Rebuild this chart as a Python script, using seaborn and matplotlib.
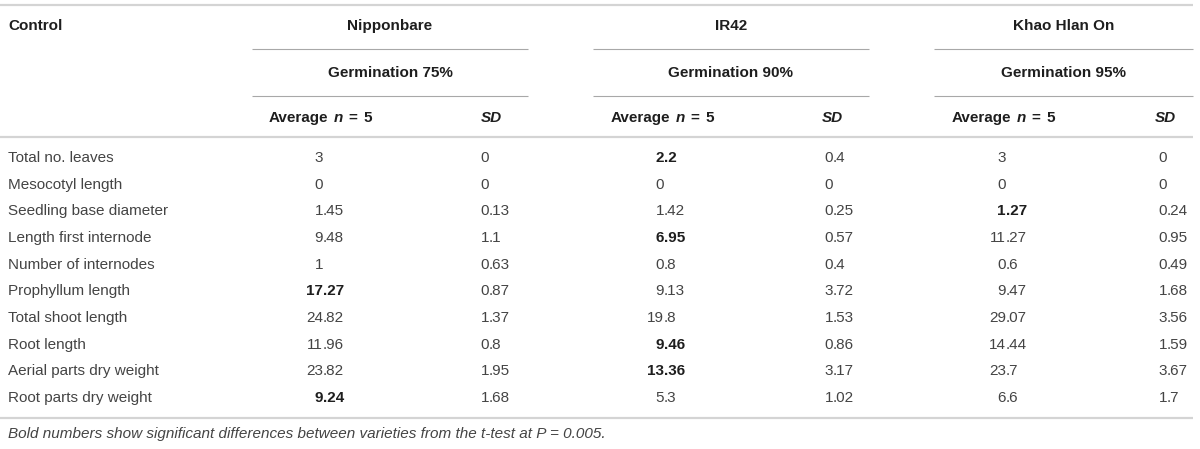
import matplotlib
matplotlib.use("Agg")
import matplotlib.pyplot as plt
import seaborn as sns
import pandas as pd

# ---------------- data ----------------
row_labels = ["Total no. leaves", "Mesocotyl length", "Seedling base diameter",
              "Length first internode", "Number of internodes", "Prophyllum length",
              "Total shoot length", "Root length", "Aerial parts dry weight",
              "Root parts dry weight"]
varieties = ["Nipponbare", "IR42", "Khao Hlan On"]
germination = ["Germination 75%", "Germination 90%", "Germination 95%"]

nip_avg = [3, 0, 1.45, 9.48, 1, 17.27, 24.82, 11.96, 23.82, 9.24]
nip_sd = [0, 0, 0.13, 1.1, 0.63, 0.87, 1.37, 0.8, 1.95, 1.68]
ir42_avg = [2.2, 0, 1.42, 6.95, 0.8, 9.13, 19.8, 9.46, 13.36, 5.3]
ir42_sd = [0.4, 0, 0.25, 0.57, 0.4, 3.72, 1.53, 0.86, 3.17, 1.02]
khao_avg = [3, 0, 1.27, 11.27, 0.6, 9.47, 29.07, 14.44, 23.7, 6.6]
khao_sd = [0, 0, 0.24, 0.95, 0.49, 1.68, 3.56, 1.59, 3.67, 1.7]

nip_bold = [False, False, False, False, False, True, False, False, False, True]
ir42_bold = [True, False, False, True, False, False, False, True, True, False]
khao_bold = [False, False, True, False, False, False, False, False, False, False]

footnote = "Bold numbers show significant differences between varieties from the t-test at P = 0.005."

# ---------------- style ----------------
sns.set_theme(style="white")
plt.rcParams["font.family"] = ["Liberation Sans", "DejaVu Sans"]

FS = 11
REG = "#444444"
BOLD = "#1e1e1e"
LIGHT_LINE = "#d4d4d4"
SUB_LINE = "#a8a8a8"

fig = plt.figure(figsize=(12, 4.49), dpi=100)
ax = fig.add_axes([0, 0, 1, 1])
ax.set_xlim(0, 1200)
ax.set_ylim(449, 0)
ax.axis("off")
renderer = fig.canvas.get_renderer()

df = pd.DataFrame({
    "label": row_labels,
    "nip_avg": nip_avg, "nip_sd": nip_sd,
    "ir42_avg": ir42_avg, "ir42_sd": ir42_sd,
    "khao_avg": khao_avg, "khao_sd": khao_sd,
})

# layout (pixels)
group_left = [252, 593, 934]
group_right = [528, 869, 1193]
avg_center = [320, 662, 1003]
sd_center = [491, 832, 1165]
avg_dec = [323, 664, 1006]
sd_dec = [489, 833, 1167]
y_title, y_germ, y_sub = 26, 73, 118
y_row0, row_h = 158, 26.67

# horizontal rules
ax.plot([0, 1193], [5, 5], color=LIGHT_LINE, lw=1.6, solid_capstyle="butt")
ax.plot([0, 1193], [137, 137], color=LIGHT_LINE, lw=1.6, solid_capstyle="butt")
ax.plot([0, 1193], [418, 418], color=LIGHT_LINE, lw=1.6, solid_capstyle="butt")
for l, r in zip(group_left, group_right):
    ax.plot([l, r], [49, 49], color=SUB_LINE, lw=0.8, solid_capstyle="butt")
    ax.plot([l, r], [96, 96], color=SUB_LINE, lw=0.8, solid_capstyle="butt")


def width_of(s, **kw):
    t = ax.text(0, 0, s, fontsize=FS, **kw)
    w = t.get_window_extent(renderer).width
    t.remove()
    return w


def rich_center(x, y, segs, color):
    sp = 1.35 * (width_of("a a", fontweight="bold") - width_of("aa", fontweight="bold"))
    texts, widths = [], []
    for s, w, st in segs:
        t = ax.text(0, y, s, fontsize=FS, fontweight=w, fontstyle=st,
                    color=color, va="center", ha="left")
        texts.append(t)
        widths.append(t.get_window_extent(renderer).width)
    total = sum(widths) + sp * (len(segs) - 1)
    cur = x - total / 2
    for t, w in zip(texts, widths):
        t.set_x(cur)
        cur += w + sp


# header
ax.text(8, y_title, "Control", fontsize=FS, fontweight="bold", color=BOLD,
        va="center", ha="left")
for i in range(3):
    cx = (group_left[i] + group_right[i]) / 2
    ax.text(cx, y_title, varieties[i], fontsize=FS, fontweight="bold",
            color=BOLD, va="center", ha="center")
    ax.text(cx, y_germ, germination[i], fontsize=FS, fontweight="bold",
            color=BOLD, va="center", ha="center")
    rich_center(avg_center[i], y_sub,
                [("Average", "bold", "normal"), ("n", "bold", "italic"),
                 ("=", "bold", "normal"), ("5", "bold", "normal")], BOLD)
    ax.text(sd_center[i], y_sub, "SD", fontsize=FS, fontweight="bold",
            fontstyle="italic", color=BOLD, va="center", ha="center")


def dec_text(xd, y, v, bold):
    s = f"{v:g}"
    kw = dict(fontsize=FS, va="center",
              fontweight="bold" if bold else "normal",
              color=BOLD if bold else REG)
    if "." in s:
        ip, fp = s.split(".")
        ax.text(xd, y, ip, ha="right", **kw)
        ax.text(xd, y, "." + fp, ha="left", **kw)
    else:
        ax.text(xd, y, s, ha="right", **kw)


cols = [("nip_avg", "nip_sd", nip_bold), ("ir42_avg", "ir42_sd", ir42_bold),
        ("khao_avg", "khao_sd", khao_bold)]
for r, row in df.iterrows():
    y = y_row0 + r * row_h
    ax.text(8, y, row["label"], fontsize=FS, color=REG, va="center", ha="left")
    for g, (ca, cs, bflags) in enumerate(cols):
        dec_text(avg_dec[g], y, row[ca], bflags[r])
        dec_text(sd_dec[g], y, row[cs], False)

ax.text(8, 434, footnote, fontsize=FS, fontstyle="italic", color=REG,
        va="center", ha="left")

fig.savefig("out.png", dpi=100, facecolor="white")
